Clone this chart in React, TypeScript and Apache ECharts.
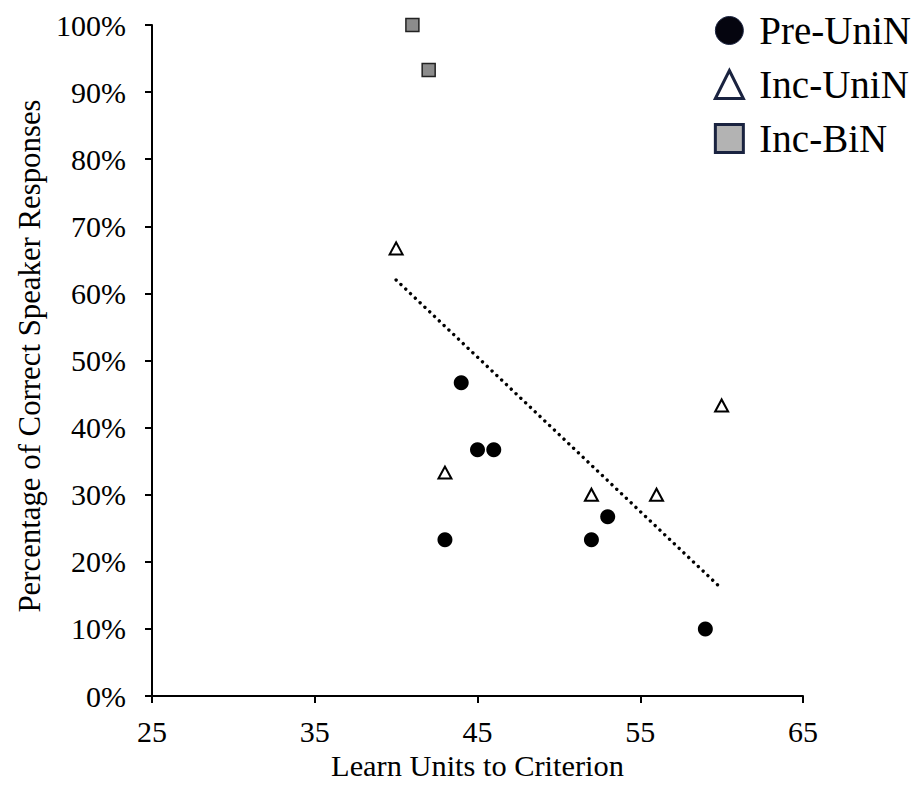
import React, { useEffect, useRef } from "react";
import * as echarts from "echarts";

const xTicks = [25, 35, 45, 55, 65];
const preUniX = [43, 44, 45, 46, 52, 53, 59];
const preUniY = [23.3, 46.7, 36.7, 36.7, 23.3, 26.7, 10];
const incUniX = [40, 43, 52, 56, 60];
const incUniY = [66.7, 33.3, 30, 30, 43.3];
const incBiX = [41, 42];
const incBiY = [100, 93.3];
const trendX = [40, 60];
const trendY = [62, 16];
const seriesNames = ["Pre-UniN", "Inc-UniN", "Inc-BiN"];

const FONT = '"Liberation Serif", "Times New Roman", serif';

const zip = (xs: number[], ys: number[]) => xs.map((x, i) => [x, ys[i]]);

export default function App() {
  const ref = useRef<HTMLDivElement>(null);
  useEffect(() => {
    if (!ref.current) return;
    const chart = echarts.init(ref.current, null, { renderer: "svg" });
    chart.setOption({
      animation: false,
      backgroundColor: "#fff",
      textStyle: { fontFamily: FONT, color: "#000" },
      grid: { left: 152, right: 118, top: 25, bottom: 95, containLabel: false },
      legend: {
        orient: "vertical",
        right: 5,
        top: 6,
        itemWidth: 28,
        itemHeight: 28,
        itemGap: 15,
        textStyle: { fontFamily: FONT, fontSize: 39, color: "#000", padding: [0, 0, 0, 11] },
        data: [
          { name: seriesNames[0], icon: "circle", itemStyle: { color: "#05050f", borderColor: "#1a2340", borderWidth: 1 } },
          { name: seriesNames[1], icon: "triangle", itemStyle: { color: "#fff", borderColor: "#1a2340", borderWidth: 3 } },
          { name: seriesNames[2], icon: "rect", itemStyle: { color: "#b3b3b3", borderColor: "#1a2340", borderWidth: 3 } },
        ],
      },
      xAxis: {
        type: "value",
        min: 25,
        max: 65,
        interval: 10,
        name: "Learn Units to Criterion",
        nameLocation: "middle",
        nameGap: 55,
        nameTextStyle: { fontFamily: FONT, fontSize: 30.4, color: "#000" },
        axisLine: { show: true, lineStyle: { color: "#000", width: 2 } },
        axisTick: { show: true, length: 7, lineStyle: { color: "#000", width: 2 } },
        axisLabel: {
          fontFamily: FONT,
          fontSize: 30,
          color: "#000",
          margin: 20,
          formatter: (v: number) => (xTicks.includes(v) ? String(v) : ""),
        },
        splitLine: { show: false },
      },
      yAxis: {
        type: "value",
        min: 0,
        max: 100,
        interval: 10,
        name: "Percentage of Correct Speaker Responses",
        nameLocation: "middle",
        nameGap: 92,
        nameTextStyle: { fontFamily: FONT, fontSize: 30.8, color: "#000", padding: [0, 0, 0, 9] },
        axisLine: { show: true, lineStyle: { color: "#000", width: 2 } },
        axisTick: { show: true, length: 7, lineStyle: { color: "#000", width: 2 } },
        axisLabel: { fontFamily: FONT, fontSize: 30, color: "#000", margin: 26, formatter: "{value}%" },
        splitLine: { show: false },
      },
      series: [
        {
          name: seriesNames[0],
          type: "scatter",
          symbol: "circle",
          symbolSize: 15,
          itemStyle: { color: "#000", opacity: 1 },
          data: zip(preUniX, preUniY),
          z: 3,
        },
        {
          name: seriesNames[1],
          type: "scatter",
          symbol: "triangle",
          symbolSize: [13, 12],
          itemStyle: { color: "#fff", borderColor: "#000", borderWidth: 2, opacity: 1 },
          data: zip(incUniX, incUniY),
          z: 3,
        },
        {
          name: seriesNames[2],
          type: "scatter",
          symbol: "rect",
          symbolSize: 13,
          itemStyle: { color: "#8c8c8c", borderColor: "#222", borderWidth: 1.5, opacity: 1 },
          data: zip(incBiX, incBiY),
          z: 3,
        },
        {
          name: "Trend",
          type: "line",
          symbol: "none",
          data: zip(trendX, trendY),
          lineStyle: { color: "#000", width: 3.4, type: [0.01, 6.6], cap: "round" },
          z: 2,
          silent: true,
        },
      ],
    });
    return () => chart.dispose();
  }, []);
  return <div ref={ref} style={{ width: 921, height: 791, marginLeft: -8, marginTop: -8 }} />;
}
